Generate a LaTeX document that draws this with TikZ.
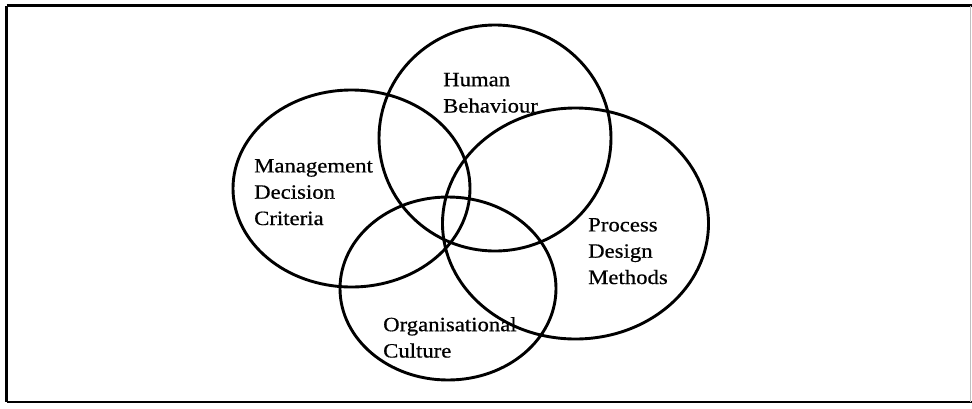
\documentclass[tikz,border=0pt]{standalone}
\usepackage{fontspec}
\setmainfont{Liberation Serif}
\newfontfamily\labfont[FakeStretch=1.12,FakeBold=0.6]{Liberation Serif}
\begin{document}
\begin{tikzpicture}[x=1pt,y=-1pt,
  venn/.style={draw=black,line width=2.9pt},
  lab/.style={font=\labfont\fontsize{20.3}{26.3}\selectfont,align=left,anchor=base west,inner sep=0pt},
  framel/.style={draw=black,line width=2.6pt}]
\useasboundingbox (0,0) rectangle (972,408);
\fill[white] (0,0) rectangle (972,408);
% frame
\coordinate (tl) at (6.5,5.5);
\coordinate (tr) at (972,5.5);
\coordinate (bl) at (6.5,402);
\coordinate (br) at (972,402);
\draw[framel] (tl) -- (tr);
\draw[framel] (tl) -- (bl);
\draw[framel] (bl) -- (br);
\draw[gray!50,line width=1pt] (970.5,5.5) -- (970.5,402);
% ellipses
\draw[venn] (351.5,188.5) ellipse [x radius=118.5,y radius=98.5];
\draw[venn] (495,138) ellipse [x radius=116,y radius=113];
\draw[venn] (575.5,223.5) ellipse [x radius=133,y radius=115.5];
\draw[venn] (448,288.5) ellipse [x radius=108,y radius=91.5];
% labels (anchor = baseline of last line)
\node[lab] (hb) at (443,112.5) {Human\\Behaviour};
\node[lab] (mdc) at (254,225) {Management\\Decision\\Criteria};
\node[lab] (pdm) at (588,284) {Process\\Design\\Methods};
\node[lab] (oc) at (383,357.5) {Organisational\\Culture};
\end{tikzpicture}
\end{document}
